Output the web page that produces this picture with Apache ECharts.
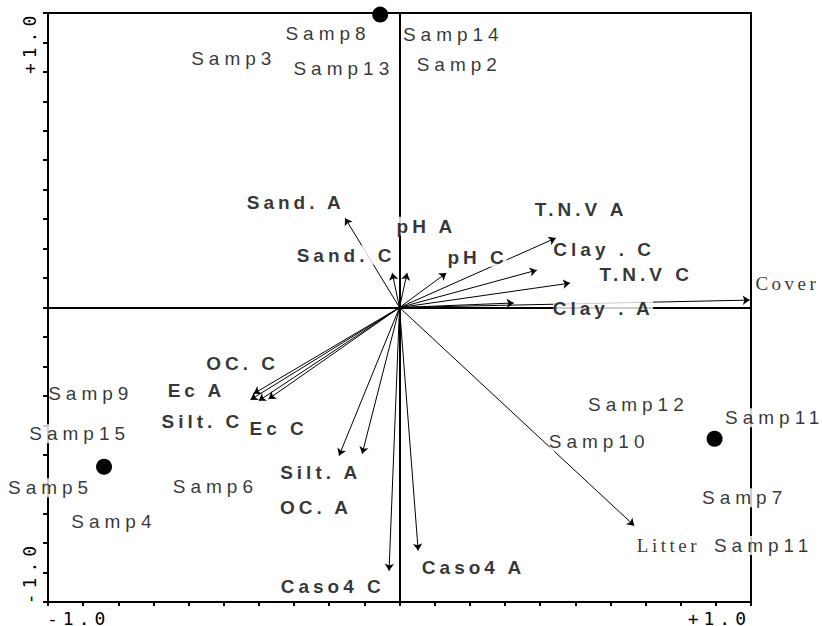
<!DOCTYPE html>
<html><head><meta charset="utf-8">
<script src="https://cdn.jsdelivr.net/npm/echarts@6/dist/echarts.min.js"></script>
<style>html,body{margin:0;padding:0;background:#fff}#c{width:822px;height:626px}</style>
</head><body><div id="c"></div>
<script>
// ---- data ----
const envNames   = ['Sand. A','Sand. C','pH A','pH C','T.N.V A','Clay . C','T.N.V C','Clay . A','Cover','Litter','Caso4 A','Caso4 C','Silt. A','OC. A','OC. C','Ec A','Silt. C','Ec C'];
const envX       = [-0.172,-0.023, 0.024, 0.148, 0.494, 0.434, 0.539, 0.361, 1.107, 0.742, 0.059,-0.033,-0.191,-0.118,-0.461,-0.471,-0.445,-0.414];
const envY       = [ 0.337, 0.130, 0.130, 0.130, 0.262, 0.141, 0.092, 0.017, 0.028,-0.823,-0.917,-0.993,-0.559,-0.552,-0.325,-0.348,-0.352,-0.345];
const envLabelX  = [-0.328,-0.169, 0.085, 0.247, 0.574, 0.647, 0.780, 0.644, 1.226, 0.850, 0.234,-0.211,-0.249,-0.264,-0.496,-0.642,-0.623,-0.382];
const envLabelY  = [ 0.397, 0.198, 0.307, 0.190, 0.370, 0.217, 0.126,-0.002, 0.092,-0.898,-0.981,-1.053,-0.623,-0.755,-0.213,-0.314,-0.431,-0.458];
const sampleNames = ['Samp8','Samp14','Samp3','Samp13','Samp2','Samp9','Samp15','Samp5','Samp4','Samp6','Samp12','Samp11','Samp10','Samp7','Samp11'];
const sampleX     = [-0.226, 0.170,-0.524,-0.176, 0.189,-0.976,-1.011,-1.103,-0.903,-0.582, 0.755, 1.186, 0.631, 1.091, 1.151];
const sampleY     = [ 1.034, 1.030, 0.940, 0.902, 0.917,-0.326,-0.476,-0.680,-0.808,-0.676,-0.367,-0.416,-0.507,-0.718,-0.898];
const dotX = [-0.061,-0.934, 0.996];
const dotY = [ 1.105,-0.601,-0.495];
const axisMin = -10/9, axisMax = 10/9, axisStep = 1/9;
const tickLabels = {'-9':'-1.0','9':'+1.0'};

// ---- styles ----
const serifLabels = ['Cover','Litter'];
const ST = {
  bold:   {fontFamily:'Liberation Sans', fontWeight:'bold', fontSize:19, ls:4},
  serif:  {fontFamily:'Liberation Serif', fontWeight:'normal', fontSize:19, ls:3.5},
  sample: {fontFamily:'Liberation Sans', fontWeight:'normal', fontSize:19, ls:5},
  tick:   {fontFamily:'DejaVu Sans Mono', fontWeight:'normal', fontSize:18, ls:5}
};
function labelStyle(name, st){
  return {show:true, position:'inside', formatter:name, color:'#000',
    fontFamily:st.fontFamily, fontWeight:st.fontWeight, fontSize:st.fontSize,
    backgroundColor:'#fff', padding:[0, Math.ceil((name.length-1)*st.ls/2)+1],
    textBorderWidth:0};
}
const envLabelData = envNames.map((n,i)=>({name:n, value:[envLabelX[i], envLabelY[i]],
  label: labelStyle(n, serifLabels.includes(n) ? ST.serif : ST.bold)}));
const sampleData = sampleNames.map((n,i)=>({name:n, value:[sampleX[i], sampleY[i]], label: labelStyle(n, ST.sample)}));
const arrowData = envNames.map((n,i)=>({name:n, coords:[[0,0],[envX[i], envY[i]]]}));
const dotData = dotX.map((x,i)=>[x, dotY[i]]);

const chart = echarts.init(document.getElementById('c'), null, {renderer:'svg'});
const tickKey = v => String(Math.round(v/axisStep));
const xTickFmt = v => { const k = tickKey(v); const t = tickLabels[k]; if(!t) return ''; return k.startsWith('-') ? '{l|'+t+'}' : '{r|'+t+'}'; };
const yTickFmt = v => tickLabels[tickKey(v)] || '';
const tickRich = {
  l:{fontFamily:ST.tick.fontFamily, fontSize:ST.tick.fontSize, color:'#000', padding:[0,9,0,0]},
  r:{fontFamily:ST.tick.fontFamily, fontSize:ST.tick.fontSize, color:'#000', padding:[0,0,0,7]}
};
const axisLineStyle = {show:true, onZero:false, lineStyle:{color:'#000', width:2}};
chart.setOption({
  animation:false,
  backgroundColor:'#fff',
  grid:{left:48, right:71, top:13, bottom:24, show:true, borderColor:'#000', borderWidth:2,
        backgroundColor:'transparent', containLabel:false, outerBoundsMode:'none'},
  xAxis:{type:'value', min:axisMin, max:axisMax, interval:axisStep, position:'bottom',
    axisLine:axisLineStyle, splitLine:{show:false},
    axisTick:{show:true, interval:0, inside:false, length:4, lineStyle:{color:'#000', width:2}},
    axisLabel:{show:true, margin:7, color:'#000', fontFamily:ST.tick.fontFamily, fontSize:ST.tick.fontSize,
      formatter:xTickFmt, rich:tickRich, showMinLabel:true, showMaxLabel:true, hideOverlap:false}},
  yAxis:{type:'value', min:axisMin, max:axisMax, interval:axisStep, position:'left',
    axisLine:axisLineStyle, splitLine:{show:false},
    axisTick:{show:true, interval:0, inside:false, length:5, lineStyle:{color:'#000', width:2}},
    axisLabel:{show:true, margin:10, rotate:90, color:'#000', fontFamily:ST.tick.fontFamily, fontSize:ST.tick.fontSize,
      formatter:yTickFmt, showMinLabel:true, showMaxLabel:true, hideOverlap:false}},
  series:[
    {type:'scatter', z:2, clip:false, silent:true, symbol:'circle', symbolSize:16,
     itemStyle:{color:'#000', opacity:1}, data:dotData,
     markLine:{silent:true, symbol:['none','none'], label:{show:false},
       lineStyle:{color:'#000', width:2, type:'solid'}, emphasis:{disabled:true},
       data:[{xAxis:0},{yAxis:0}]}},
    {type:'lines', coordinateSystem:'cartesian2d', z:3, silent:true,
     symbol:['none','arrow'], symbolSize:7,
     lineStyle:{color:'#000', width:1, opacity:1, curveness:0}, data:arrowData},
    {type:'scatter', z:5, clip:false, silent:true, symbolSize:1, itemStyle:{color:'rgba(0,0,0,0)'},
     data:envLabelData},
    {type:'scatter', z:5, clip:false, silent:true, symbolSize:1, itemStyle:{color:'rgba(0,0,0,0)'},
     data:sampleData}
  ]
});

// letter spacing to match the wide text of the reference
function spacingFor(s){
  if (sampleNames.includes(s)) return ST.sample.ls;
  if (serifLabels.includes(s)) return ST.serif.ls;
  if (envNames.includes(s)) return ST.bold.ls;
  if (s==='-1.0' || s==='+1.0') return ST.tick.ls;
  return 0;
}
function applySpacing(){
  document.querySelectorAll('#c svg text').forEach(t=>{
    const ls = spacingFor(t.textContent.trim());
    if (ls){ t.setAttribute('letter-spacing', ls); t.style.letterSpacing = ls+'px'; }
  });
}
chart.on('rendered', applySpacing);
chart.on('finished', applySpacing);
setTimeout(applySpacing, 50);
setTimeout(applySpacing, 300);
</script></body></html>
